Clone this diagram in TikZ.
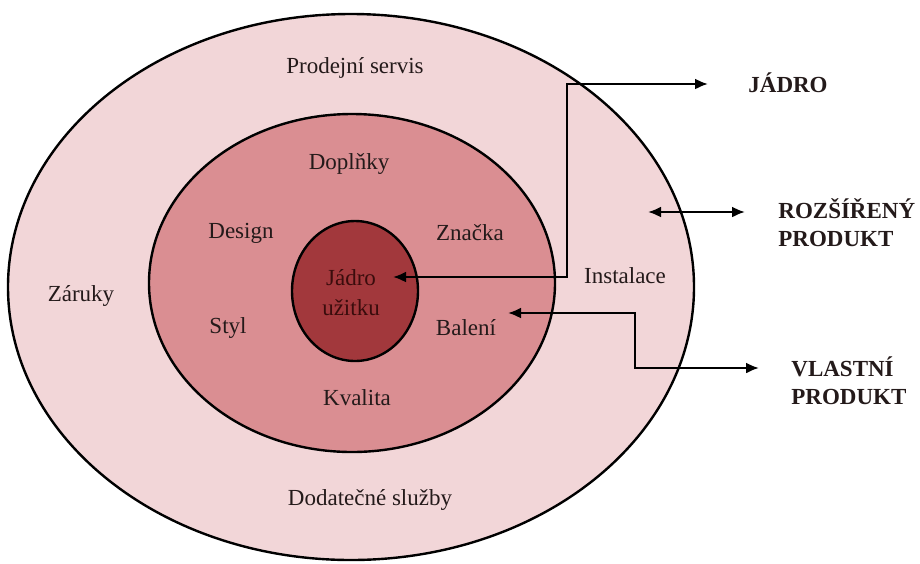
\documentclass[tikz,border=0pt]{standalone}
\usepackage{fontspec}
\setmainfont{Liberation Serif}
\usetikzlibrary{arrows.meta,shapes.geometric}
\definecolor{outerfill}{RGB}{242,214,216}
\definecolor{midfill}{RGB}{218,142,146}
\definecolor{innerfill}{RGB}{162,56,60}
\definecolor{txt}{RGB}{36,26,26}
\definecolor{innertxt}{RGB}{58,12,12}
\tikzset{
  ring/.style={ellipse, draw=black, line width=1.2pt, inner sep=0pt},
  lbl/.style={font=\fontsize{11.5}{14}\selectfont, text=txt, inner sep=0pt},
  side/.style={font=\fontsize{11.5}{14}\selectfont\bfseries, text=txt, inner sep=0pt, align=left, anchor=west},
  conn/.style={line width=1.1pt, {Latex[length=6.5pt,width=5.5pt]}-{Latex[length=6.5pt,width=5.5pt]}}
}
\begin{document}
\begin{tikzpicture}[x=0.5pt,y=-0.5pt]
\useasboundingbox (0,0) rectangle (920,563);
\fill[white] (0,0) rectangle (920,563);
\node[ring, fill=outerfill, minimum width=343pt, minimum height=273pt] (outer) at (351,287) {};
\node[ring, fill=midfill, minimum width=203pt, minimum height=169pt] (mid) at (352,283) {};
\node[ring, fill=innerfill, minimum width=63pt, minimum height=70pt] (inner) at (355,291) {};

\node[lbl] (prodejni) at (355,68) {Prodejní servis};
\node[lbl] (zaruky) at (81,296) {Záruky};
\node[lbl] (instalace) at (625,276) {Instalace};
\node[lbl] (dodatecne) at (370,500) {Dodatečné služby};
\node[lbl] (doplnky) at (349,164) {Doplňky};
\node[lbl] (design) at (241,233) {Design};
\node[lbl] (znacka) at (470,233) {Značka};
\node[lbl] (styl) at (228,328) {Styl};
\node[lbl] (baleni) at (466,328) {Balení};
\node[lbl] (kvalita) at (357,398) {Kvalita};
\node[lbl, text=innertxt, align=center, font=\fontsize{11.5}{15}\selectfont] (jadrou) at (351,293) {Jádro\\užitku};

\node[side] (jadro) at (748,83) {JÁDRO};
\node[side] (rozsireny) at (778,223) {ROZŠÍŘENÝ\\PRODUKT};
\node[side] (vlastni) at (791,381) {VLASTNÍ\\PRODUKT};

\coordinate (jt) at (393,277);
\coordinate (jc) at (567,84);
\coordinate (ja) at (708,84);
\draw[conn] (jt) -| (jc) -- (ja);

\coordinate (ra) at (648,212);
\coordinate (rb) at (745,212);
\draw[conn] (ra) -- (rb);

\coordinate (bt) at (508,313);
\coordinate (bc) at (635,368);
\coordinate (ba) at (759,368);
\draw[conn] (bt) -| (bc) -- (ba);
\end{tikzpicture}
\end{document}
